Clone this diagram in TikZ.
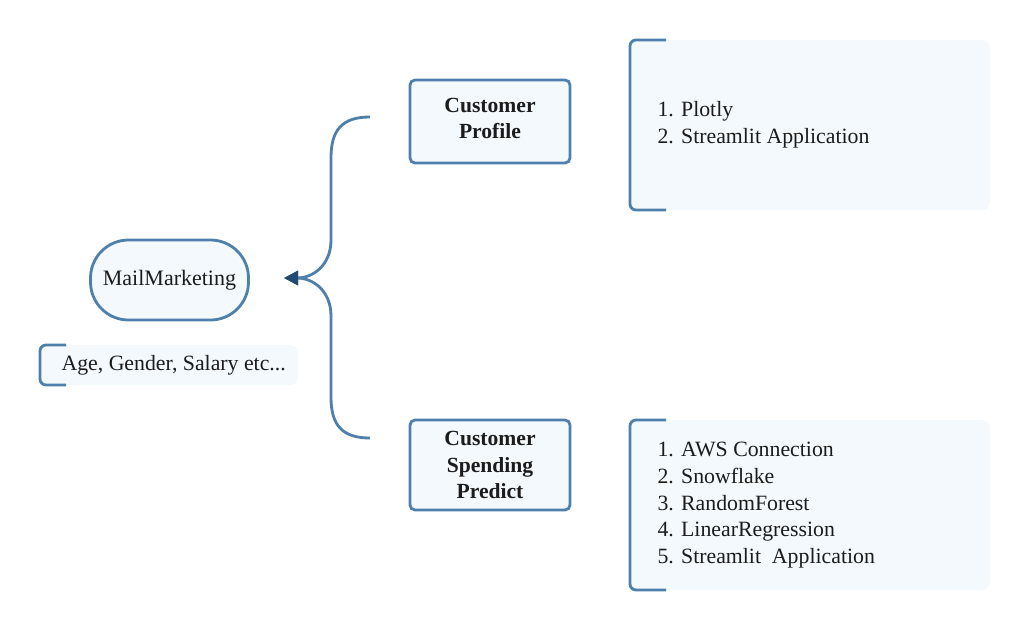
\documentclass[tikz,border=0pt]{standalone}
\usepackage{fontspec}
\setmainfont{Liberation Serif}
\usetikzlibrary{arrows.meta}
\definecolor{bord}{HTML}{4F80AC}
\definecolor{fillb}{HTML}{F3F9FD}
\definecolor{tipc}{HTML}{1F4A72}
\definecolor{txt}{HTML}{1C1C1C}
\tikzset{
  box/.style={draw=bord, fill=fillb, line width=2.8pt, rounded corners=5pt, text=txt, align=center},
  pill/.style={draw=bord, fill=fillb, line width=2.8pt, rounded corners=38pt, text=txt},
  panel/.style={fill=fillb, draw=none, rounded corners=8pt},
  brack/.style={draw=bord, line width=2.8pt, rounded corners=6pt},
  conn/.style={draw=bord, line width=2.8pt},
  hubtip/.style={-{Triangle[length=14pt,width=14pt,color=tipc,fill=tipc]}},
  ttext/.style={text=txt, font=\fontsize{21.8}{26.6}\selectfont, align=left, anchor=west},
}
\begin{document}
\begin{tikzpicture}[x=1pt,y=-1pt]
\useasboundingbox[fill=white] (0,0) rectangle (1030,630);

% central node
\node[pill, minimum width=158pt, minimum height=80pt, font=\fontsize{22}{26}\selectfont] (mail) at (169.5,280) {MailMarketing};

% attribute panel
\fill[panel] (40,345) rectangle (298,385);
\draw[brack] (66,345) -- (40,345) -- (40,385) -- (66,385);
\node[ttext] (attr) at (58,365) {Age, Gender, Salary etc...};

% branch boxes
\node[box, minimum width=160pt, minimum height=83pt, font=\bfseries\fontsize{21.6}{26.5}\selectfont] (prof) at (490,121.5) {Customer\\Profile\\[-20pt]\mbox{}};
\node[box, minimum width=160pt, minimum height=90pt, font=\bfseries\fontsize{21.6}{26.5}\selectfont] (spend) at (490,465) {Customer\\Spending\\Predict};

% detail panels
\fill[panel] (630,40) rectangle (990,210);
\draw[brack] (666,40) -- (630,40) -- (630,210) -- (666,210);
\node[ttext, anchor=north west] (list1) at (654,98) {1. Plotly\\2. Streamlit Application};

\fill[panel] (630,420) rectangle (990,590);
\draw[brack] (666,420) -- (630,420) -- (630,590) -- (666,590);
\node[ttext, anchor=north west] (list2) at (654,439) {1. AWS Connection\\2. Snowflake\\3. RandomForest\\4. LinearRegression\\5. Streamlit\ \ Application};

% connectors
\coordinate (hub) at (284,278);
\coordinate (topend) at (370,117);
\coordinate (botend) at (370,438);
\draw[conn, hubtip] (topend) .. controls (342,117) and (331,130) .. (331,158) -- (331,240) .. controls (331,266) and (312,278) .. (hub);
\draw[conn, hubtip] (botend) .. controls (342,438) and (331,425) .. (331,397) -- (331,316) .. controls (331,290) and (312,278) .. (hub);
\end{tikzpicture}
\end{document}
